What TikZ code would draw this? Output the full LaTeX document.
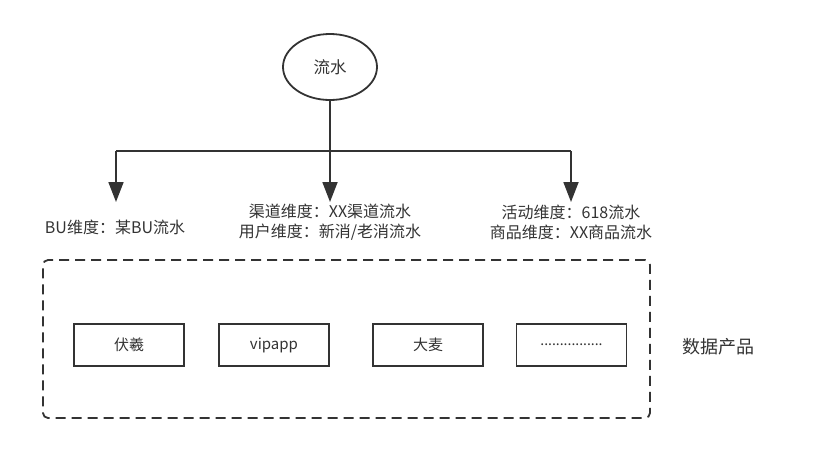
\documentclass[tikz,border=0pt]{standalone}
\usepackage{fontspec}
\setmainfont{Noto Sans CJK SC}
\usetikzlibrary{arrows.meta,shapes.geometric}
\definecolor{ink}{HTML}{333333}
\tikzset{
  conn/.style={draw=ink,line width=1.8pt,-{Triangle[length=20pt,width=15pt]}},
  trunk/.style={draw=ink,line width=1.8pt,line join=miter},
  prodbox/.style={draw=ink,line width=1.8pt,minimum width=110pt,minimum height=42pt,inner sep=0pt,text=ink,font=\fontsize{15}{18}\selectfont},
  lbl/.style={text=ink,align=center,inner sep=0pt,font=\fontsize{16}{20}\selectfont},
  group/.style={draw=ink,line width=1.8pt,dash pattern=on 10pt off 6pt,rounded corners=5pt,minimum width=607pt,minimum height=158pt,inner sep=0pt}
}
\begin{document}
\begin{tikzpicture}[x=1pt,y=-1pt]
\useasboundingbox (0,0) rectangle (828,450);
\node[ellipse,draw=ink,line width=1.8pt,minimum width=94pt,minimum height=66pt,inner sep=0pt,text=ink,font=\fontsize{16.5}{19}\selectfont] (src) at (330,67) {流水};
\coordinate (j1) at (116,151);
\coordinate (j3) at (571,151);
\coordinate (a1) at (116,202);
\coordinate (a2) at (330,202);
\coordinate (a3) at (571,202);
\draw[trunk] (j1) -- (j3);
\draw[conn] (j1) -- (a1);
\draw[conn] (j3) -- (a3);
\draw[conn] (src) -- (a2);
\node[lbl] (t1) at (115,227) {BU维度：某BU流水};
\node[lbl] (t2) at (330,222) {渠道维度：XX渠道流水\\用户维度：新消/老消流水};
\node[lbl] (t3) at (571,222) {活动维度：618流水\\商品维度：XX商品流水};
\node[group] (grp) at (346.5,339) {};
\node[prodbox] (p1) at (129,345) {伏羲};
\node[prodbox] (p2) at (274,345) {vipapp};
\node[prodbox] (p3) at (428,345) {大麦};
\node[prodbox,font=\fontsize{14}{17}\selectfont] (p4) at (571.5,345) {................};
\node[text=ink,inner sep=0pt,font=\fontsize{18}{21}\selectfont] (dp) at (718,347) {数据产品};
\end{tikzpicture}
\end{document}
